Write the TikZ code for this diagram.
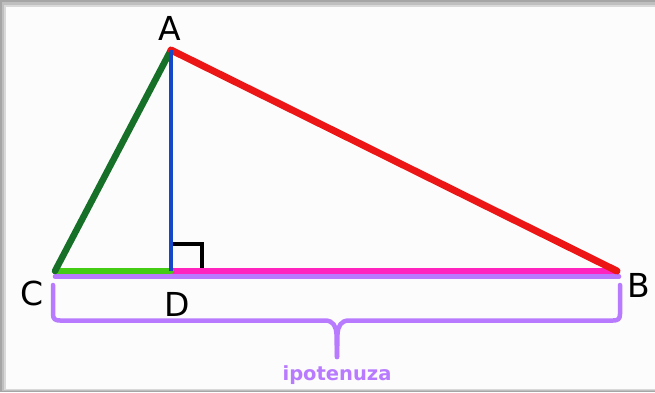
\documentclass[tikz,border=0pt]{standalone}
\usepackage{fontspec}
\setmainfont{DejaVu Sans}
\begin{document}
\begin{tikzpicture}[x=1pt,y=-1pt,
  lbl/.style={font=\fontsize{33}{33}\selectfont, text=black, inner sep=0pt, anchor=base},
  seg/.style={line cap=round, line join=round},
  bracestyle/.style={draw=bracepurple, line width=4.5pt, line cap=round, line join=round}]
\definecolor{darkgreen}{RGB}{22,112,40}
\definecolor{lightgreen}{RGB}{68,204,20}
\definecolor{altblue}{RGB}{20,72,200}
\definecolor{sidered}{RGB}{236,22,22}
\definecolor{hypmagenta}{RGB}{255,36,190}
\definecolor{bracepurple}{RGB}{184,122,255}
\definecolor{bgwhite}{RGB}{252,252,252}
\useasboundingbox (0,0) rectangle (655,392);
\clip (0,0) rectangle (655,392);
% frame / shadow
\fill[gray!70] (0,0) rectangle (665,392);
\fill[gray!50] (2,2) rectangle (665,391);
\fill[gray!30] (4,5) rectangle (665,389.5);
\fill[bgwhite] (6,7) rectangle (665,388.5);
% vertices
\coordinate (vA) at (171,50);
\coordinate (vB) at (617,271);
\coordinate (vC) at (55,271);
\coordinate (vD) at (171,271);
\coordinate (hC) at (55,276.5);
\coordinate (hB) at (619,276.5);
% right angle mark
\coordinate (r1) at (172,244);
\coordinate (r2) at (202,244);
\coordinate (r3) at (202,268);
\draw[line width=3.5pt, black] (r1) -- (r2) -- (r3);
% sides
\draw[seg, hypmagenta, line width=6pt] (vD) -- (vB);
\draw[seg, lightgreen, line width=6pt] (vC) -- (vD);
\draw[seg, bracepurple, line width=4.5pt] (hC) -- (hB);
\draw[seg, darkgreen, line width=6.5pt] (vC) -- (vA);
\draw[seg, sidered, line width=7pt] (vA) -- (vB);
\draw[line width=4.5pt, altblue] (vA) -- (vD);
% brace
\coordinate (bL) at (53,285);
\coordinate (bR) at (620,285);
\coordinate (bT) at (337,357);
\draw[bracestyle] (bL) -- (53,314) .. controls (53,319) and (55,320.5) .. (60,320.5)
  -- (325,320.5) .. controls (333,320.5) and (336,326) .. (336.5,334) -- (bT);
\draw[bracestyle] (bR) -- (620,314) .. controls (620,319) and (618,320.5) .. (613,320.5)
  -- (349,320.5) .. controls (341,320.5) and (338,326) .. (337.5,334) -- (bT);
% labels
\node[lbl] (A) at (170,40) {A};
\node[lbl] (B) at (639,297) {B};
\node[lbl] (C) at (32,305) {C};
\node[lbl] (D) at (177,316) {D};
\node[font=\bfseries\fontsize{19.5}{19.5}\selectfont, text=bracepurple, inner sep=0pt, anchor=base] (hyp) at (337,380) {ipotenuza};
\end{tikzpicture}
\end{document}
